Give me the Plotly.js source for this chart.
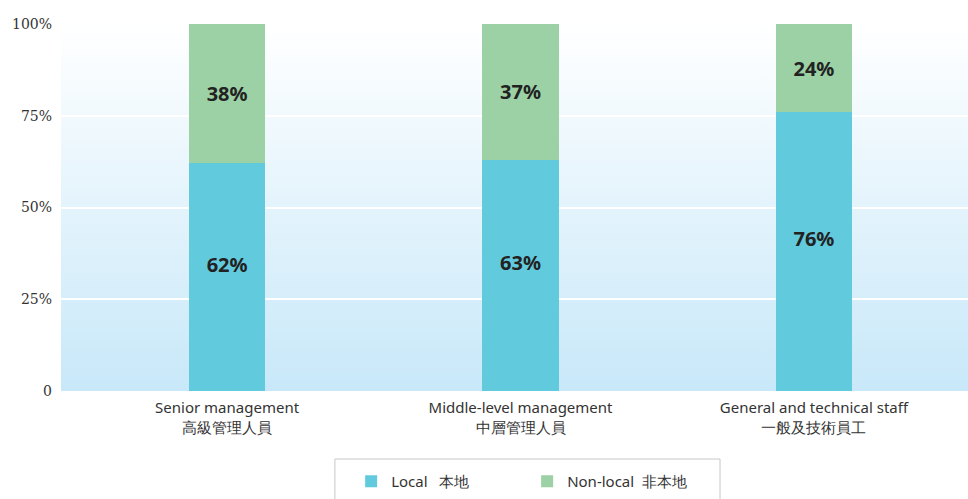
<!DOCTYPE html>
<html>
<head>
<meta charset="utf-8">
<script src="https://cdn.plot.ly/plotly-3.0.1.min.js"></script>
<style>html,body{margin:0;padding:0;background:#fff;}#chart{width:968px;height:499px;}</style>
</head>
<body>
<div id="chart"></div>
<script>
const categories = ["Senior management<br>高級管理人員", "Middle-level management<br>中層管理人員", "General and technical staff<br>一般及技術員工"];
const localValues = [62, 63, 76];
const nonLocalValues = [38, 37, 24];
const seriesNames = ["Local   本地", "Non-local  非本地"];
const tickValues = [0, 25, 50, 75, 100];
const tickLabels = ["0", "25%", "50%", "75%", "100%"];

const gradSvg = '<svg xmlns="http://www.w3.org/2000/svg" width="10" height="100" preserveAspectRatio="none"><defs><linearGradient id="g" x1="0" y1="0" x2="0" y2="1"><stop offset="0" stop-color="#ffffff"/><stop offset="1" stop-color="#c8e8f9"/></linearGradient></defs><rect width="10" height="100" fill="url(#g)"/></svg>';
const gradUrl = 'data:image/svg+xml;base64,' + btoa(gradSvg);

const textFont = {family: "Noto Sans, Open Sans, sans-serif", size: 20, color: "#222", weight: 700};

const traces = [
  {type: "bar", x: categories, y: localValues, name: seriesNames[0], marker: {color: "#62cadd"},
   text: localValues.map(v => "<b>" + v + "%</b><br> "), textposition: "inside", insidetextanchor: "middle", textfont: textFont, width: 0.26, hoverinfo: "none"},
  {type: "bar", x: categories, y: nonLocalValues, name: seriesNames[1], marker: {color: "#9bd1a4"},
   text: nonLocalValues.map(v => "<b>" + v + "%</b>"), textposition: "inside", insidetextanchor: "middle", textfont: textFont, width: 0.26, hoverinfo: "none"}
];

const layout = {
  width: 968, height: 499,
  margin: {l: 61, r: 0, t: 24, b: 108},
  barmode: "stack",
  paper_bgcolor: "#ffffff",
  plot_bgcolor: "rgba(0,0,0,0)",
  showlegend: true,
  images: [{source: gradUrl, xref: "paper", yref: "paper", x: 0, y: 1, sizex: 1, sizey: 1, sizing: "stretch", xanchor: "left", yanchor: "top", layer: "below"}],
  shapes: [{type: "rect", xref: "paper", yref: "paper", x0: 0.302, x1: 0.7266, y0: -0.1853, y1: -0.33,
            line: {color: "#c8c8c8", width: 1}, fillcolor: "#ffffff", layer: "below"}],
  xaxis: {type: "category", range: [-0.566, 2.525], showgrid: false, zeroline: false, showline: false, ticks: "",
          ticklabelstandoff: 6,
          tickfont: {family: "Noto Sans, Open Sans, sans-serif", size: 15, color: "#333"}, fixedrange: true},
  yaxis: {range: [0, 100], tickvals: tickValues, ticktext: tickLabels, showgrid: true, gridcolor: "#ffffff", gridwidth: 2,
          zeroline: false, showline: false, ticks: "", ticklabelstandoff: 8,
          tickfont: {family: "DejaVu Serif, serif", size: 14, color: "#333"}, fixedrange: true},
  legend: {orientation: "h", x: 0.3199, xanchor: "left", y: -0.2016, yanchor: "top",
           borderwidth: 0, bgcolor: "rgba(0,0,0,0)",
           font: {family: "Noto Sans, Open Sans, sans-serif", size: 15, color: "#333"},
           entrywidth: 131, itemwidth: 30, traceorder: "normal"}
};

Plotly.newPlot("chart", traces, layout, {displayModeBar: false, staticPlot: true});
</script>
</body>
</html>
